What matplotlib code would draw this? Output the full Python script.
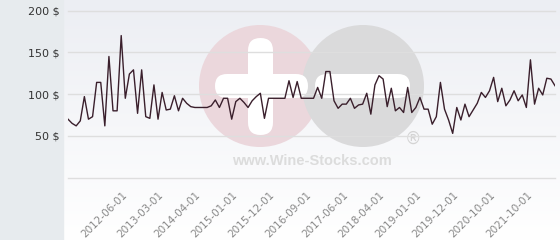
import numpy as np
import matplotlib.pyplot as plt
from matplotlib.colors import LinearSegmentedColormap
from matplotlib.patches import Circle, FancyBboxPatch, Rectangle

# price per listing (one value per category on the x axis)
prices = [70, 65, 62, 68, 97, 70, 73, 114, 114, 62,
          145, 80, 80, 170, 95, 124, 129, 77, 129, 73,
          71, 111, 70, 102, 81, 82, 98, 80, 95, 89,
          85, 84, 84, 84, 84, 86, 93, 84, 95, 95,
          70, 91, 95, 90, 84, 92, 97, 101, 71, 95,
          95, 95, 95, 95, 116, 96, 115, 95, 95, 95,
          95, 108, 95, 127, 127, 92, 83, 88, 88, 95,
          83, 87, 88, 101, 76, 111, 122, 118, 85, 107,
          80, 84, 78, 108, 78, 84, 96, 82, 82, 64,
          73, 114, 82, 69, 53, 84, 69, 88, 73, 81,
          89, 102, 96, 104, 120, 91, 107, 86, 93, 104,
          92, 99, 84, 141, 88, 107, 99, 119, 118, 110]

tick_labels = ['2012-06-01', '2013-03-01', '2014-04-01', '2015-01-01',
               '2015-12-01', '2016-09-01', '2017-06-01', '2018-04-01',
               '2019-01-01', '2019-12-01', '2020-10-01', '2021-10-01']
first_tick = 14
tick_step = 9

y_ticks = [0, 50, 100, 150, 200]
y_labels = ['', '50 $', '100 $', '150 $', '200 $']

W, H = 560, 240
fig = plt.figure(figsize=(W / 100, H / 100), dpi=100)
fig.patch.set_facecolor('white')

# grey band on the left
fig.patches.append(Rectangle((0, 0), 63 / W, 1, transform=fig.transFigure,
                             color='#e7ebee', zorder=0))

# soft gradient behind the plot
bg = fig.add_axes([63 / W, 0, 1 - 63 / W, 1], zorder=0)
cmap = LinearSegmentedColormap.from_list('bg', ['#eceef3', '#ffffff'])
bg.imshow(np.linspace(0, 1, 256).reshape(-1, 1), cmap=cmap, aspect='auto')
bg.axis('off')

# watermark, drawn in pixel coordinates
wm = fig.add_axes([0, 0, 1, 1], zorder=1)
wm.set_xlim(0, W)
wm.set_ylim(H, 0)
wm.axis('off')
wm.add_patch(Circle((260, 86), 61, color='#ebd7dc', lw=0))
wm.add_patch(Circle((363, 86), 61, color='#dadadb', lw=0))
# plus
wm.add_patch(FancyBboxPatch((215, 74), 93, 24,
                            boxstyle='round,pad=0,rounding_size=12',
                            color='white', lw=0))
wm.add_patch(FancyBboxPatch((248, 38), 25, 97,
                            boxstyle='round,pad=0,rounding_size=12.5',
                            color='white', lw=0))
# minus
wm.add_patch(FancyBboxPatch((315, 74), 95, 24,
                            boxstyle='round,pad=0,rounding_size=12',
                            color='white', lw=0))
wm.text(312, 161, 'www.Wine-Stocks.com', ha='center', va='center',
        fontsize=10.5, fontweight='bold', family='Liberation Sans',
        color='#dcdcdc')
wm.text(413, 139, '\u00ae', ha='center', va='center', fontsize=12,
        color='#d4d4d4')

# the chart itself
ax = fig.add_axes([68 / W, (H - 177.7) / H, 487 / W, 167.2 / H], zorder=2)
ax.patch.set_alpha(0)
x = np.arange(len(prices))
ax.plot(x, prices, color='#3a1f2c', lw=1, zorder=3)

ax.set_xlim(0, len(prices) - 1)
ax.set_ylim(0, 200)
ax.set_yticks(y_ticks)
ax.set_yticklabels(y_labels, fontsize=8, color='#333333')
ax.yaxis.grid(True, color='#dedede', lw=1)
for g in ax.get_ygridlines():
    g.set_clip_on(False)
ax.set_axisbelow(True)

ax.set_xticks(range(first_tick, len(prices), tick_step))
ax.set_xticklabels(tick_labels, rotation=45, ha='right', va='center',
                   rotation_mode='anchor', fontsize=7.5, color='#888888')
ax.tick_params(axis='x', length=0, pad=11)
ax.tick_params(axis='y', length=0, pad=6)
for s in ax.spines.values():
    s.set_visible(False)

fig.savefig('out.png', dpi=100)
